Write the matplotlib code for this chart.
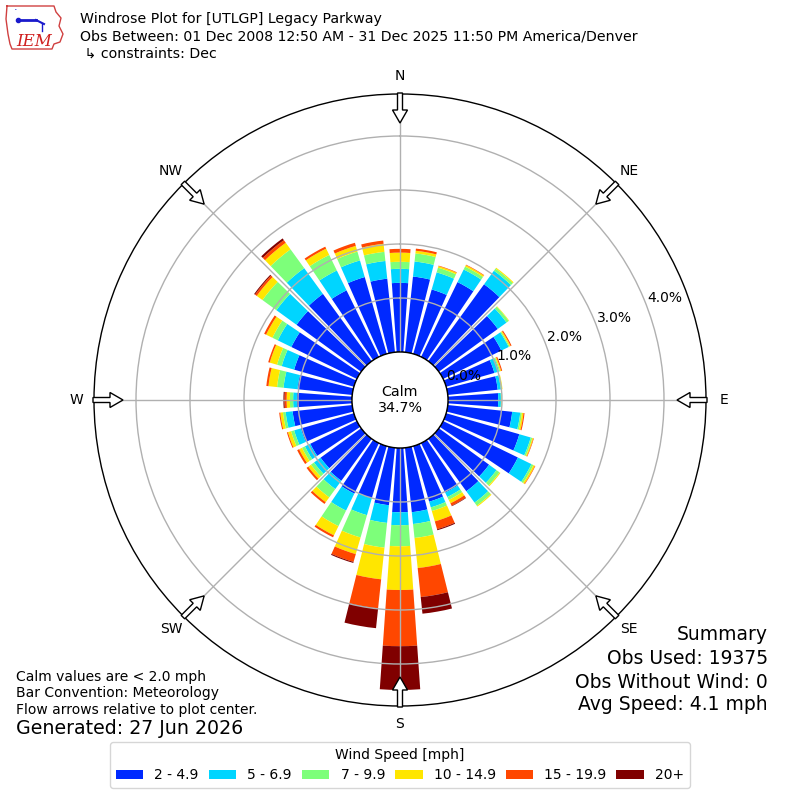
import numpy as np
import matplotlib
matplotlib.use('Agg')
import matplotlib.pyplot as plt
import matplotlib.patches as patches

# wind direction bins (degrees) and frequency (%) per speed class
dirs = np.arange(0, 360, 10)
speed_labels = ['2 - 4.9', '5 - 6.9', '7 - 9.9', '10 - 14.9', '15 - 19.9', '20+']
spd_2_5 = [1.28, 1.41, 1.24, 1.54, 1.76, 1.35, 1.20, 0.93, 0.93, 0.93,
           1.20, 1.41, 1.54, 1.15, 1.20, 1.02, 1.07, 1.20, 1.19, 1.07,
           1.00, 1.04, 0.96, 0.93, 0.96, 1.02, 1.11, 1.02, 1.02, 1.15,
           1.35, 1.48, 1.54, 1.37, 1.48, 1.37]
spd_5_7 = [0.26, 0.28, 0.33, 0.26, 0.31, 0.20, 0.15, 0.09, 0.06, 0.05,
           0.15, 0.22, 0.28, 0.17, 0.26, 0.09, 0.11, 0.22, 0.24, 0.33,
           0.33, 0.35, 0.19, 0.15, 0.11, 0.13, 0.13, 0.07, 0.26, 0.24,
           0.28, 0.46, 0.59, 0.41, 0.32, 0.33]
spd_7_10 = [0.13, 0.15, 0.09, 0.06, 0.05, 0.05, 0.02, 0.02, 0.02, 0.01,
            0.03, 0.03, 0.04, 0.07, 0.07, 0.06, 0.07, 0.26, 0.39, 0.46,
            0.43, 0.32, 0.19, 0.07, 0.06, 0.06, 0.05, 0.06, 0.12, 0.09,
            0.11, 0.32, 0.43, 0.32, 0.17, 0.17]
spd_10_15 = [0.17, 0.05, 0.03, 0.03, 0.02, 0.01, 0.02, 0.02, 0.01, 0.01,
             0.03, 0.02, 0.03, 0.02, 0.02, 0.07, 0.20, 0.56, 0.81, 0.59,
             0.32, 0.19, 0.11, 0.06, 0.06, 0.06, 0.05, 0.06, 0.16, 0.14,
             0.13, 0.13, 0.15, 0.13, 0.11, 0.15]
spd_15_20 = [0.07, 0.04, 0.01, 0.01, 0.00, 0.00, 0.02, 0.02, 0.00, 0.00,
             0.02, 0.01, 0.01, 0.00, 0.00, 0.05, 0.15, 0.54, 1.04, 0.54,
             0.15, 0.04, 0.04, 0.04, 0.04, 0.02, 0.02, 0.04, 0.04, 0.03,
             0.04, 0.04, 0.06, 0.04, 0.06, 0.06]
spd_20p = [0.00, 0.00, 0.00, 0.00, 0.00, 0.00, 0.00, 0.00, 0.00, 0.00,
           0.00, 0.00, 0.00, 0.00, 0.00, 0.01, 0.02, 0.31, 0.81, 0.37,
           0.02, 0.00, 0.00, 0.00, 0.00, 0.00, 0.00, 0.02, 0.00, 0.00,
           0.00, 0.02, 0.04, 0.00, 0.00, 0.00]
rings = [0, 1, 2, 3, 4]
compass = ['N', 'NE', 'E', 'SE', 'S', 'SW', 'W', 'NW']
calm_pct = 34.7

series = [spd_2_5, spd_5_7, spd_7_10, spd_10_15, spd_15_20, spd_20p]
colors = plt.cm.jet(np.linspace(0, 1, 7)[1:])

W = 800
CX, CY = 400, 400      # plot center, px from top-left
R_OUT = 306            # outer circle radius px
R_CALM = 48            # calm circle radius px
PX_PCT = 54            # px per 1 %
origin = R_CALM / PX_PCT
rmax = R_OUT / PX_PCT - origin

fig = plt.figure(figsize=(8, 8), dpi=100)
ax = fig.add_axes([(CX - R_OUT) / W, (W - CY - R_OUT) / W, 2 * R_OUT / W, 2 * R_OUT / W],
                  projection='polar')
ax.set_theta_zero_location('N')
ax.set_theta_direction(-1)
ax.set_ylim(0, rmax)
ax.set_rorigin(-origin)

theta = np.radians(dirs)
bottom = np.zeros(len(dirs))
handles = []
for vals, col, lab in zip(series, colors, speed_labels):
    vals = np.array(vals)
    b = ax.bar(theta, vals, width=np.radians(8), bottom=bottom, color=col,
               label=lab, linewidth=0, align='center')
    handles.append(b)
    bottom += vals

ax.set_xticks(np.radians(np.arange(0, 360, 45)))
ax.set_xticklabels([])
ax.set_yticks(rings[1:])
ax.set_yticklabels([])
ax.grid(True, color='#b0b0b0', linewidth=1)
ax.set_axisbelow(False)
ax.spines['polar'].set_linewidth(1)
ax.spines['polar'].set_color('black')

# calm circle
ax.add_patch(patches.Circle((0.5, 0.5), R_CALM / (2 * R_OUT), transform=ax.transAxes,
                            facecolor='white', edgecolor='black', linewidth=1,
                            zorder=5, clip_on=False))
ax.text(0.5, 0.5, 'Calm\n%.1f%%' % calm_pct, transform=ax.transAxes,
        ha='center', va='center', fontsize=10.3, zorder=6)

# radius labels
for v in rings:
    ax.text(np.radians(69), v + 0.37, '%.1f%%' % v, ha='center', va='center',
            fontsize=10, zorder=6)

# compass labels and flow arrows
for i, name in enumerate(compass):
    ang = np.radians(i * 45)
    ax.text(ang, (324 - R_CALM) / PX_PCT, name, ha='center', va='center', fontsize=10)
    sx = CX + 307 * np.sin(ang)
    sy = W - (CY - 307 * np.cos(ang))
    dx = -30 * np.sin(ang)
    dy = -30 * np.cos(ang)
    arr = patches.FancyArrow(sx / W, sy / W, dx / W, dy / W, width=5 / W,
                             head_width=15 / W, head_length=13 / W,
                             length_includes_head=True, facecolor='white',
                             edgecolor='black', linewidth=1,
                             transform=fig.transFigure, zorder=10)
    fig.add_artist(arr)

# titles
fig.text(80 / W, 1 - 19 / W, 'Windrose Plot for [UTLGP] Legacy Parkway', va='center', fontsize=10.15)
fig.text(80 / W, 1 - 37 / W,
         'Obs Between: 01 Dec 2008 12:50 AM - 31 Dec 2025 11:50 PM America/Denver',
         va='center', fontsize=10.15)
fig.text(80 / W, 1 - 54 / W, ' \u21b3 constraints: Dec', va='center', fontsize=10.15)

# IEM logo (rough)
lax = fig.add_axes([4 / W, 1 - 50 / W, 60 / W, 46 / W])
lax.set_xlim(0, 60)
lax.set_ylim(46, 0)
lax.axis('off')
ox = [3, 50, 52, 57, 55, 59, 56, 50, 48, 8, 6, 4, 2, 3]
oy = [2, 2, 8, 14, 22, 30, 38, 40, 45, 45, 40, 30, 15, 2]
lax.plot(ox, oy, color='#d04040', linewidth=1)
lax.plot([15, 32], [16, 16], color='#1a1acc', linewidth=2)
lax.plot([32, 40], [16, 20], color='#1a1acc', linewidth=1.5)
lax.plot([14], [16], marker='o', color='#1a1acc', markersize=3)
lax.plot([38, 38], [20, 27], color='#1a1acc', linewidth=1)
lax.text(10, 9, '\u00b7', color='#1a1acc', fontsize=8)
lax.text(30, 37, 'IEM', color='#d02020', fontsize=12, ha='center', va='center',
         family='DejaVu Serif', style='italic')

# notes
fig.text(16 / W, 1 - 677 / W, 'Calm values are < 2.0 mph', va='center', fontsize=10)
fig.text(16 / W, 1 - 693 / W, 'Bar Convention: Meteorology', va='center', fontsize=10)
fig.text(16 / W, 1 - 710 / W, 'Flow arrows relative to plot center.', va='center', fontsize=10)
fig.text(16 / W, 1 - 729 / W, 'Generated: 27 Jun 2026', va='center', fontsize=13.7)

summary = ['Summary', 'Obs Used: 19375', 'Obs Without Wind: 0', 'Avg Speed: 4.1 mph']
for txt, yy in zip(summary, [635, 659, 682, 705]):
    fig.text(768 / W, 1 - yy / W, txt, ha='right', va='center', fontsize=13.5)

leg = fig.legend(handles, speed_labels, loc='center', bbox_to_anchor=(0.5, 1 - 765 / W),
                 ncol=6, title='Wind Speed [mph]', fontsize=10, title_fontsize=10,
                 columnspacing=0.7, handlelength=2.0)

fig.savefig('out.png', dpi=100)
